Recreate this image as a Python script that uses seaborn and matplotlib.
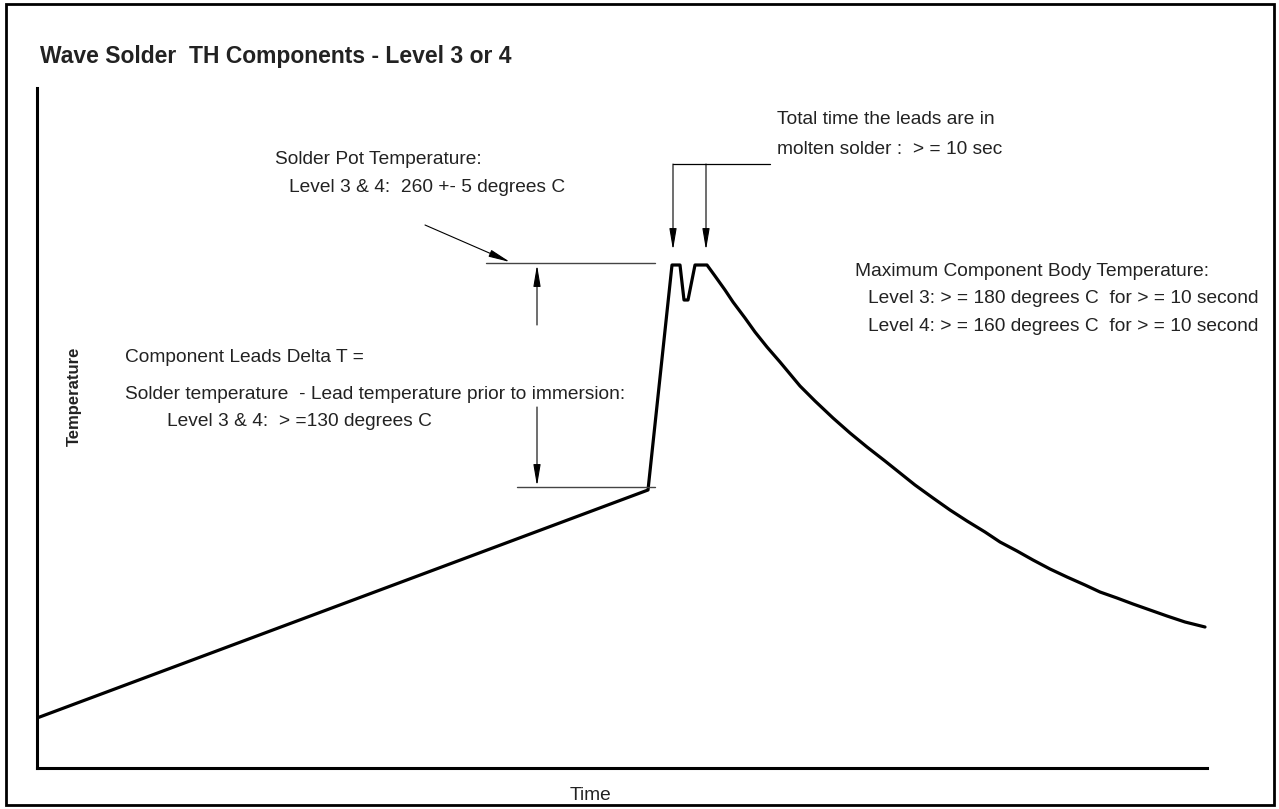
import matplotlib.pyplot as plt
import matplotlib.patches as patches
import seaborn as sns
import pandas as pd

# profile of the wave solder curve (arbitrary time / temperature units)
time = [0, 611, 635, 643, 647, 651, 658, 670, 678, 688, 696, 708, 718, 730,
        743, 753, 763, 778, 796, 813, 830, 848, 863, 878, 896, 913, 930, 948,
        963, 980, 996, 1013, 1030, 1048, 1063, 1080, 1096, 1113, 1130, 1148,
        1168]
temperature = [50, 278, 503, 503, 468, 468, 503, 503, 492, 478, 466, 450, 436,
               421, 406, 394, 382, 367, 350, 335, 321, 307, 295, 283, 270, 258,
               247, 236, 226, 217, 208, 199, 191, 183, 176, 170, 164, 158, 152,
               146, 141]

solder_pot_level = 505
lead_level = 281

W, H = 1279, 809
sns.set_style('white')
plt.rcParams['font.family'] = ['Liberation Sans', 'DejaVu Sans']

fig = plt.figure(figsize=(W / 100, H / 100), dpi=100)
ax = fig.add_axes([37 / W, (H - 768) / H, (1207 - 37) / W, (768 - 88) / H])

df = pd.DataFrame({'Time': time, 'Temperature': temperature})
sns.lineplot(data=df, x='Time', y='Temperature', sort=False, color='black',
             linewidth=2.3, ax=ax)

ax.set_xlim(0, 1170)
ax.set_ylim(0, 680)
ax.set_xticks([])
ax.set_yticks([])
ax.set_xlabel('')
ax.set_ylabel('')
for side in ['top', 'right']:
    ax.spines[side].set_visible(False)
for side in ['left', 'bottom']:
    ax.spines[side].set_color('black')
    ax.spines[side].set_linewidth(2.2)

# reference lines for the delta T
ax.plot([449, 618], [solder_pot_level, solder_pot_level], color='#444444', lw=1)
ax.plot([480, 618], [lead_level, lead_level], color='#444444', lw=1)

arrow = dict(arrowstyle='-|>,head_length=1.3,head_width=0.22', color='black',
             lw=0.8, shrinkA=0, shrinkB=0)
ax.annotate('', xy=(500, solder_pot_level - 2), xytext=(500, 443), arrowprops=arrow)
ax.annotate('', xy=(500, lead_level + 1), xytext=(500, 361), arrowprops=arrow)
ax.annotate('', xy=(473, 506), xytext=(388, 543), arrowprops=arrow)

# bracket for time in molten solder
ax.plot([636, 733], [604, 604], color='black', lw=0.9)
ax.annotate('', xy=(636, 518), xytext=(636, 604), arrowprops=arrow)
ax.annotate('', xy=(669, 518), xytext=(669, 604), arrowprops=arrow)

fs = 13.75


def put(px, py, s, **kw):
    fig.text(px / W, 1 - py / H, s, va='center', ha=kw.pop('ha', 'left'),
             fontsize=kw.pop('fontsize', fs), color='#222222', **kw)


put(40, 57, 'Wave Solder  TH Components - Level 3 or 4', fontsize=16.5,
    fontweight='bold')
put(275, 160, 'Solder Pot Temperature:')
put(289, 188, 'Level 3 & 4:  260 +- 5 degrees C')
put(777, 120, 'Total time the leads are in')
put(777, 150, 'molten solder :  > = 10 sec')
put(855, 271, 'Maximum Component Body Temperature:')
put(868, 299, 'Level 3: > = 180 degrees C  for > = 10 second')
put(868, 327, 'Level 4: > = 160 degrees C  for > = 10 second')
put(125, 358, 'Component Leads Delta T =')
put(125, 394, 'Solder temperature  - Lead temperature prior to immersion:')
put(167, 421, 'Level 3 & 4:  > =130 degrees C')
put(590, 795, 'Time', ha='center')
put(74, 396, 'Temperature', ha='center', rotation=90, fontsize=12,
    fontweight='bold')

# outer frame
fig.patches.append(patches.Rectangle((6 / W, 4 / H), (W - 11) / W, (H - 8) / H,
                                     transform=fig.transFigure, fill=False,
                                     edgecolor='black', linewidth=2))

fig.savefig('out.png', dpi=100)
